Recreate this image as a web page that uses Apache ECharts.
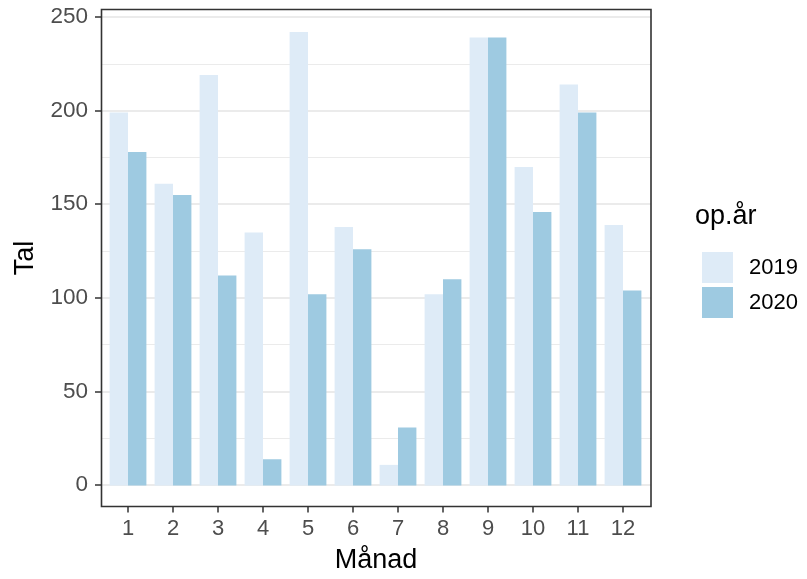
<!DOCTYPE html>
<html>
<head>
<meta charset="utf-8">
<script src="https://cdn.jsdelivr.net/npm/echarts@6/dist/echarts.min.js"></script>
<style>
html,body{margin:0;padding:0;background:#fff;}
#chart{width:807px;height:579px;}
</style>
</head>
<body>
<div id="chart"></div>
<script>
const months = ['1','2','3','4','5','6','7','8','9','10','11','12'];
const values2019 = [199,161,219,135,242,138,11,102,239,170,214,139];
const values2020 = [178,155,112,14,102,126,31,110,239,146,199,104];
const yTicks = [0,50,100,150,200,250];
const seriesNames = ['2019','2020'];
const legendTitle = 'op.år';
const xTitle = 'Månad';
const yTitle = 'Tal';

const FONT = '"Liberation Sans", Arial, Helvetica, sans-serif';
const chart = echarts.init(document.getElementById('chart'), null, {renderer:'canvas'});

const yMax = yTicks[yTicks.length-1];
const pxPerUnit = 468 / yMax;
const yMinBars = -(506 - 485) / pxPerUnit;

const option = {
  animation: false,
  backgroundColor: '#ffffff',
  grid: [
    {left: 101, right: 156, top: 17, height: 468, containLabel: false},
    {left: 105.5, width: 540, top: 17, height: 489.5, containLabel: false}
  ],
  xAxis: [
    {gridIndex: 0, type: 'category', data: months, show: false},
    {gridIndex: 1, type: 'category', data: months,
     axisLine: {show: false, onZero: false},
     axisTick: {show: true, alignWithLabel: true, length: 6, lineStyle: {color: '#333333', width: 1.5}},
     axisLabel: {color: '#4D4D4D', fontSize: 22, fontFamily: FONT, margin: 11},
     splitLine: {show: false}}
  ],
  yAxis: [
    {gridIndex: 0, type: 'value', min: yTicks[0], max: yMax, interval: 50,
     axisLine: {show: false},
     axisTick: {show: true, length: 6, lineStyle: {color: '#333333', width: 1.5}},
     axisLabel: {color: '#4D4D4D', fontSize: 22.5, fontFamily: FONT, margin: 13},
     splitLine: {show: true, lineStyle: {color: '#EBEBEB', width: 1.8}},
     minorTick: {show: false, splitNumber: 2},
     minorSplitLine: {show: true, lineStyle: {color: '#EBEBEB', width: 1}}},
    {gridIndex: 1, type: 'value', min: yMinBars, max: yMax, show: false, splitLine: {show: false}}
  ],
  legend: {
    orient: 'vertical',
    left: 697, top: 247,
    itemWidth: 31, itemHeight: 31, itemGap: 4,
    icon: 'rect',
    data: seriesNames,
    textStyle: {color: '#000000', fontSize: 22, fontFamily: FONT, padding: [0,0,0,11]},
    selectedMode: false
  },
  series: [
    {name: seriesNames[0], type: 'bar', xAxisIndex: 1, yAxisIndex: 1, data: values2019,
     barWidth: 18.4, barGap: '0%', itemStyle: {color: '#DEEBF7'}},
    {name: seriesNames[1], type: 'bar', xAxisIndex: 1, yAxisIndex: 1, data: values2020,
     barWidth: 18.4, barGap: '0%', itemStyle: {color: '#9ECAE1'}}
  ],
  graphic: [
    {type: 'rect', z: 100, silent: true,
     shape: {x: 101.5, y: 9.5, width: 549.5, height: 497},
     style: {fill: 'none', stroke: '#333333', lineWidth: 1.6}},
    {type: 'text', x: 376, y: 561, silent: true,
     style: {text: xTitle, fill: '#000000', font: '27px ' + FONT, textAlign: 'center', textVerticalAlign: 'middle'}},
    {type: 'text', x: 26, y: 258, rotation: Math.PI/2, silent: true,
     style: {text: yTitle, fill: '#000000', font: '27px ' + FONT, textAlign: 'center', textVerticalAlign: 'middle'}},
    {type: 'text', x: 695, y: 217, silent: true,
     style: {text: legendTitle, fill: '#000000', font: '27px ' + FONT, textAlign: 'left', textVerticalAlign: 'middle'}}
  ]
};
chart.setOption(option);
</script>
</body>
</html>
